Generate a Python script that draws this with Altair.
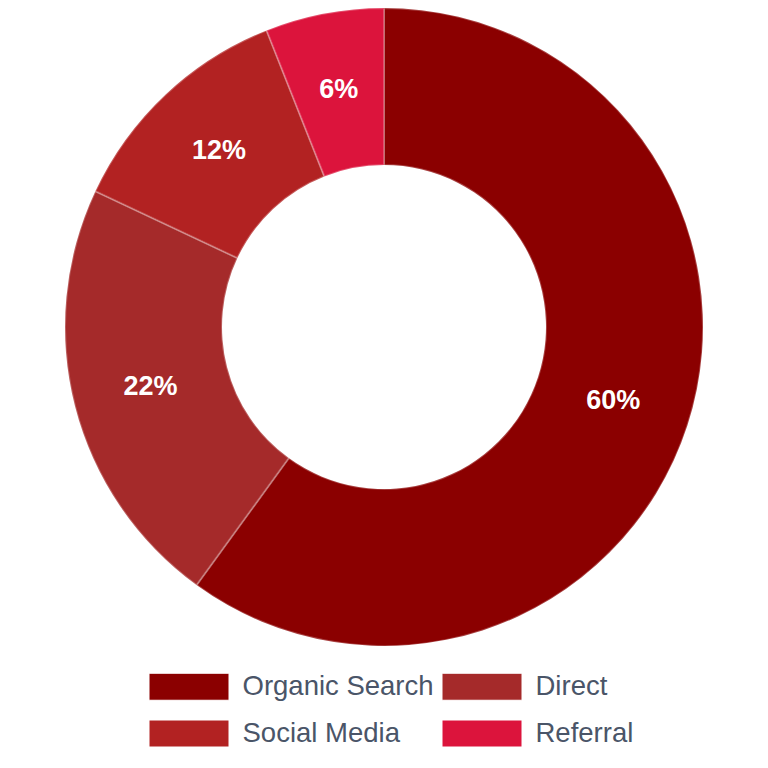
import altair as alt
import pandas as pd

categories = ["Organic Search", "Direct", "Social Media", "Referral"]
values = [60, 22, 12, 6]
colors = ["#8B0000", "#A52A2A", "#B22222", "#DC143C"]

df = pd.DataFrame({
    "source": categories,
    "share": values,
    "idx": list(range(len(categories))),
})
df["label"] = df["share"].astype(str) + "%"

CX, CY = 376, 319
R_OUT, R_IN, R_LBL = 319, 162, 241

base = alt.Chart(df).encode(
    theta=alt.Theta("share:Q", stack=True),
    order=alt.Order("idx:Q"),
)

# legend swatch: 80 x 27 px drawn from a 27 px layout symbol
SW = 80 / 27
arcs = base.mark_arc(
    outerRadius=R_OUT, innerRadius=R_IN,
    stroke="white", strokeOpacity=0.25, strokeWidth=2,
).encode(
    x=alt.value(CX), y=alt.value(CY),
    color=alt.Color(
        "source:N",
        scale=alt.Scale(domain=categories, range=colors),
        sort=categories,
        legend=alt.Legend(
            title=None,
            orient="none",
            legendX=167,
            legendY=664.5,
            columns=2,
            direction="horizontal",
            symbolType=f"M-{SW:.4f},-1L{SW:.4f},-1L{SW:.4f},1L-{SW:.4f},1Z",
            symbolSize=729,
            symbolStrokeColor="#ffffff",
            symbolStrokeWidth=1,
            symbolOpacity=1,
            labelFont="Liberation Sans",
            labelFontSize=27.5,
            labelColor="#4a5568",
            labelOffset=39.5,
            labelLimit=400,
            columnPadding=5,
            rowPadding=15,
        ),
    ),
)

text = base.mark_text(
    radius=R_LBL, font="Liberation Sans", fontSize=27, fontWeight="bold",
    color="white", baseline="middle", align="center",
).encode(
    x=alt.value(CX), y=alt.value(CY),
    text="label:N",
)

chart = alt.layer(arcs, text).properties(
    width=752, height=752,
    autosize=alt.AutoSizeParams(type="none"),
    padding=0,
).configure_view(stroke=None)

chart.save("out.html", embed_options={"renderer": "svg", "actions": False})
